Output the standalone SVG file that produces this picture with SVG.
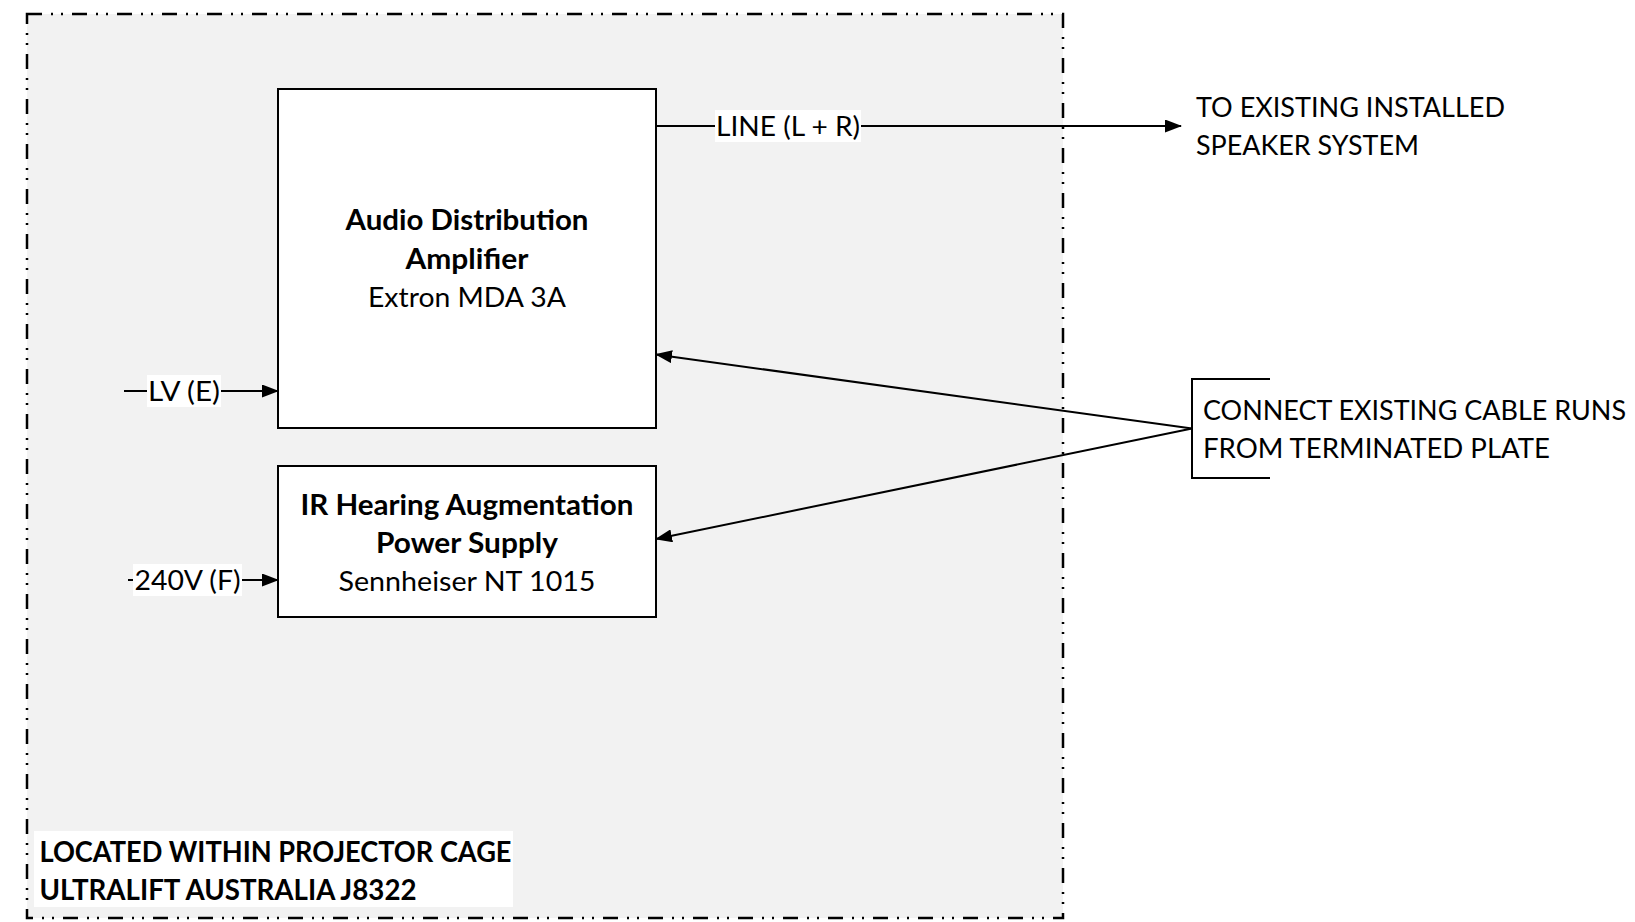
<svg xmlns="http://www.w3.org/2000/svg" width="1635" height="922" viewBox="0 0 1635 922">
<style>
.t{font-family:Lato,"Open Sans","Liberation Sans",sans-serif;font-size:27px;fill:#000}
.b{font-weight:bold;font-size:28px}
.box{fill:#fff;stroke:#000;stroke-width:2}
.ln{fill:none;stroke:#000;stroke-width:2}
.bg{fill:#fff}
</style>
<defs>
<marker id="ah" markerWidth="17" markerHeight="13" refX="16" refY="6.5" orient="auto" markerUnits="userSpaceOnUse">
<path d="M0,0 L17,6.5 L0,13 Z" fill="#000"/>
</marker>
</defs>
<g id="container">
<rect x="27" y="14" width="1036" height="904" fill="#f2f2f2" stroke="#000" stroke-width="2.5" stroke-dasharray="15 9 2 8 2 9"/>
</g>
<g id="connectors">
<line class="ln" x1="656" y1="126" x2="1181" y2="126" marker-end="url(#ah)"/>
<rect class="bg" x="715" y="110" width="146" height="32"/>
<text class="t" x="716" y="136" textLength="144" lengthAdjust="spacingAndGlyphs">LINE (L + R)</text>
<line class="ln" x1="124" y1="391" x2="278" y2="391" marker-end="url(#ah)"/>
<rect class="bg" x="147" y="375" width="74" height="32"/>
<text class="t" x="148" y="401" textLength="72" lengthAdjust="spacingAndGlyphs">LV (E)</text>
<line class="ln" x1="128" y1="580" x2="278" y2="580" marker-end="url(#ah)"/>
<rect class="bg" x="133" y="564" width="109" height="32"/>
<text class="t" x="134.5" y="590" textLength="106" lengthAdjust="spacingAndGlyphs">240V (F)</text>
<line class="ln" x1="1192" y1="428.5" x2="656" y2="354.5" marker-end="url(#ah)"/>
<line class="ln" x1="1192" y1="428.5" x2="656" y2="539" marker-end="url(#ah)"/>
</g>
<g id="amp">
<rect class="box" x="278" y="89" width="378" height="339"/>
<text class="t b" x="467" y="230" text-anchor="middle" textLength="243" lengthAdjust="spacingAndGlyphs">Audio Distribution</text>
<text class="t b" x="467" y="269" text-anchor="middle" textLength="123" lengthAdjust="spacingAndGlyphs">Amplifier</text>
<text class="t" x="467" y="307" text-anchor="middle" textLength="198" lengthAdjust="spacingAndGlyphs">Extron MDA 3A</text>
</g>
<g id="ir">
<rect class="box" x="278" y="466" width="378" height="151"/>
<text class="t b" x="467" y="515" text-anchor="middle" textLength="333" lengthAdjust="spacingAndGlyphs">IR Hearing Augmentation</text>
<text class="t b" x="467" y="553" text-anchor="middle" textLength="182" lengthAdjust="spacingAndGlyphs">Power Supply</text>
<text class="t" x="467" y="591" text-anchor="middle" textLength="257" lengthAdjust="spacingAndGlyphs">Sennheiser NT 1015</text>
</g>
<g id="speaker">
<text class="t" x="1196" y="117" textLength="309" lengthAdjust="spacingAndGlyphs">TO EXISTING INSTALLED</text>
<text class="t" x="1196" y="155" textLength="223" lengthAdjust="spacingAndGlyphs">SPEAKER SYSTEM</text>
</g>
<g id="plate">
<path class="ln" d="M1270,379 H1192 V478 H1270"/>
<text class="t" x="1203" y="420" textLength="423" lengthAdjust="spacingAndGlyphs">CONNECT EXISTING CABLE RUNS</text>
<text class="t" x="1203" y="458" textLength="347" lengthAdjust="spacingAndGlyphs">FROM TERMINATED PLATE</text>
</g>
<g id="location">
<rect class="bg" x="34" y="831" width="479" height="76"/>
<text class="t b" x="39.5" y="862" textLength="472" lengthAdjust="spacingAndGlyphs">LOCATED WITHIN PROJECTOR CAGE</text>
<text class="t b" x="39.5" y="900" textLength="377" lengthAdjust="spacingAndGlyphs">ULTRALIFT AUSTRALIA J8322</text>
</g>
</svg>
